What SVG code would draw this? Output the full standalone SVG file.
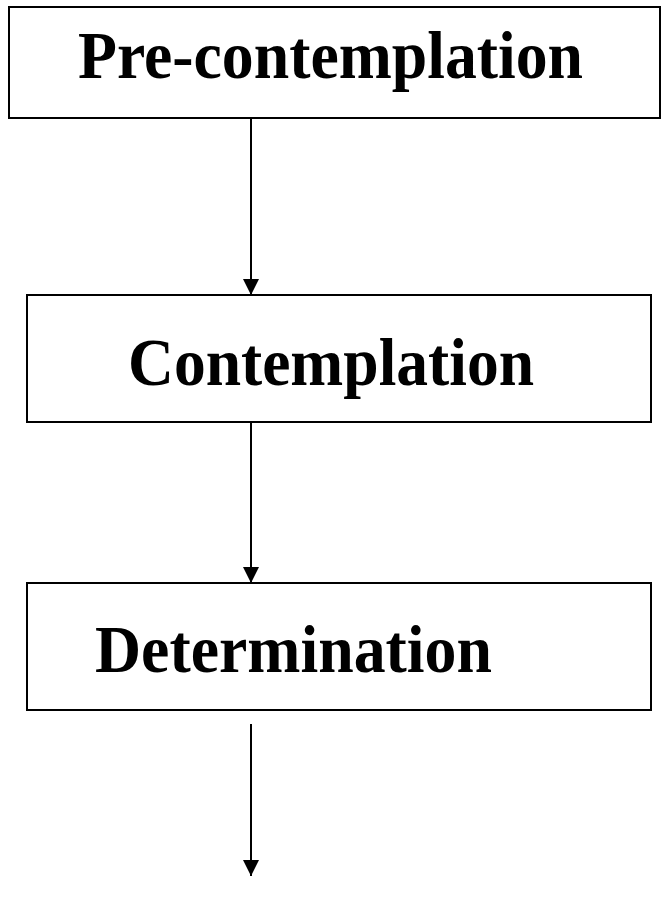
<svg xmlns="http://www.w3.org/2000/svg" width="662" height="902" viewBox="0 0 662 902">
<style>
.box{fill:#fff;stroke:#000;stroke-width:2}
.lbl{font-family:"Liberation Serif","Times New Roman",serif;font-weight:bold;font-size:67px;fill:#000}
.conn{stroke:#000;stroke-width:2;fill:none;marker-end:url(#ah)}
</style>
<defs>
<marker id="ah" markerUnits="userSpaceOnUse" markerWidth="16" markerHeight="16" refX="16" refY="8" orient="auto" viewBox="0 0 16 16">
<path d="M0,0 L16,8 L0,16 Z" fill="#000"/>
</marker>
</defs>
<g id="n1"><rect class="box" x="9" y="7" width="651" height="111"/><text class="lbl" x="78" y="78" textLength="505" lengthAdjust="spacingAndGlyphs">Pre-contemplation</text></g>
<g id="n2"><rect class="box" x="27" y="295" width="624" height="127"/><text class="lbl" x="128" y="385" textLength="406" lengthAdjust="spacingAndGlyphs">Contemplation</text></g>
<g id="n3"><rect class="box" x="27" y="583" width="624" height="127"/><text class="lbl" x="95" y="672" textLength="397" lengthAdjust="spacingAndGlyphs">Determination</text></g>
<g id="connectors">
<line class="conn" x1="251" y1="118" x2="251" y2="295"/>
<line class="conn" x1="251" y1="422" x2="251" y2="583"/>
<line class="conn" x1="251" y1="724" x2="251" y2="876"/>
</g>
</svg>
